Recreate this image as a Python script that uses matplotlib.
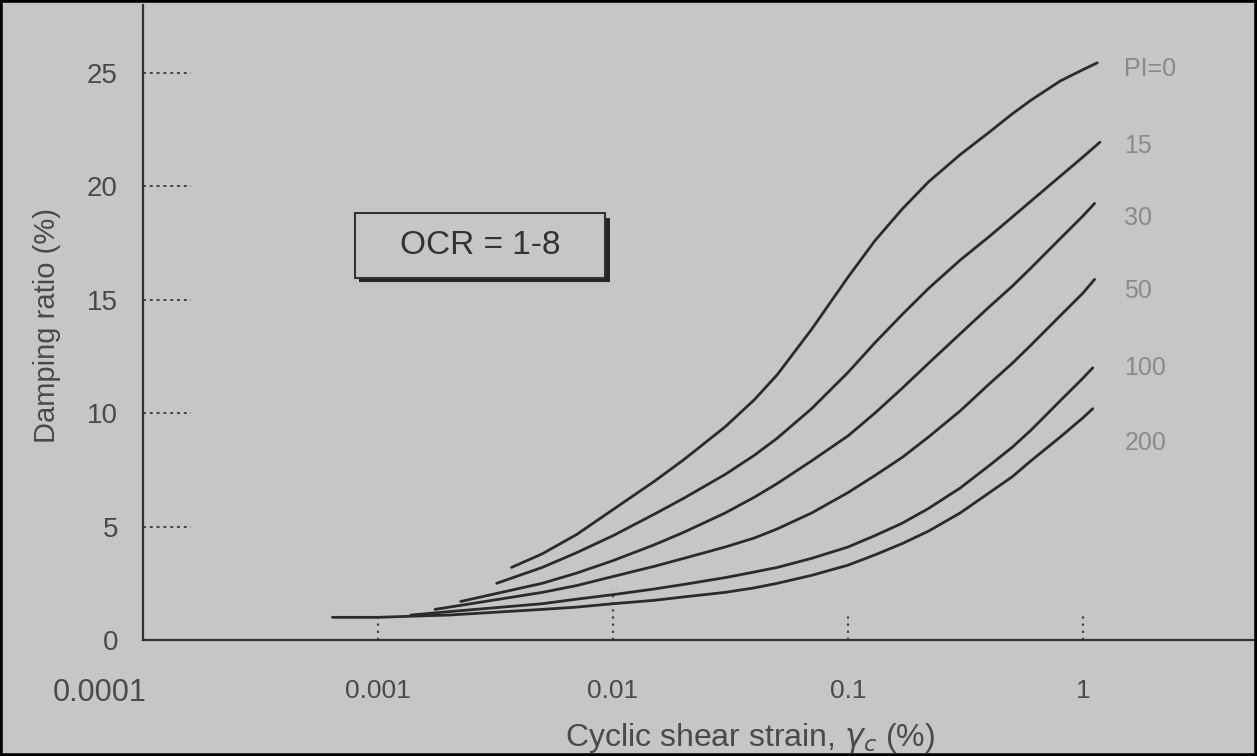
import matplotlib
matplotlib.use("Agg")
import matplotlib.pyplot as plt
from matplotlib.patches import Rectangle

# Damping ratio (%) vs cyclic shear strain (%) (OCR = 1-8)
strain_pi0 = [0.0037, 0.005, 0.007, 0.01, 0.015, 0.02, 0.03, 0.04, 0.05, 0.07, 0.1,
              0.13, 0.17, 0.22, 0.3, 0.4, 0.5, 0.6, 0.8, 1.0, 1.15]
damp_pi0 = [3.2, 3.8, 4.65, 5.75, 7.0, 7.95, 9.4, 10.6, 11.7, 13.7, 16.0,
            17.6, 19.0, 20.2, 21.4, 22.4, 23.2, 23.8, 24.65, 25.15, 25.45]

strain_pi15 = [0.0032, 0.005, 0.007, 0.01, 0.015, 0.02, 0.03, 0.04, 0.05, 0.07, 0.1,
               0.13, 0.17, 0.22, 0.3, 0.4, 0.5, 0.6, 0.8, 1.0, 1.18]
damp_pi15 = [2.5, 3.2, 3.85, 4.6, 5.55, 6.25, 7.3, 8.15, 8.9, 10.2, 11.8,
             13.1, 14.35, 15.5, 16.75, 17.8, 18.65, 19.35, 20.45, 21.3, 21.95]

strain_pi30 = [0.00225, 0.005, 0.007, 0.01, 0.015, 0.02, 0.03, 0.04, 0.05, 0.07, 0.1,
               0.13, 0.17, 0.22, 0.3, 0.4, 0.5, 0.6, 0.8, 1.0, 1.12]
damp_pi30 = [1.7, 2.5, 2.95, 3.5, 4.2, 4.75, 5.6, 6.3, 6.9, 7.9, 9.0,
             10.0, 11.1, 12.2, 13.5, 14.7, 15.6, 16.4, 17.7, 18.7, 19.25]

strain_pi50 = [0.00175, 0.005, 0.007, 0.01, 0.015, 0.02, 0.03, 0.04, 0.05, 0.07, 0.1,
               0.13, 0.17, 0.22, 0.3, 0.4, 0.5, 0.6, 0.8, 1.0, 1.12]
damp_pi50 = [1.35, 2.1, 2.4, 2.8, 3.25, 3.6, 4.1, 4.5, 4.9, 5.6, 6.5,
             7.25, 8.05, 8.95, 10.1, 11.3, 12.2, 13.0, 14.3, 15.3, 15.9]

strain_pi100 = [0.00138, 0.002, 0.005, 0.007, 0.01, 0.015, 0.02, 0.03, 0.04, 0.05, 0.07, 0.1,
                0.13, 0.17, 0.22, 0.3, 0.4, 0.5, 0.6, 0.8, 1.0, 1.1]
damp_pi100 = [1.1, 1.25, 1.6, 1.8, 2.0, 2.25, 2.45, 2.75, 3.0, 3.2, 3.6, 4.1,
              4.6, 5.15, 5.8, 6.7, 7.7, 8.5, 9.25, 10.55, 11.55, 12.0]

strain_pi200 = [0.00064, 0.001, 0.0014, 0.002, 0.005, 0.007, 0.01, 0.015, 0.02, 0.03, 0.04, 0.05, 0.07, 0.1,
                0.13, 0.17, 0.22, 0.3, 0.4, 0.5, 0.6, 0.8, 1.0, 1.1]
damp_pi200 = [1.0, 1.0, 1.05, 1.1, 1.35, 1.45, 1.6, 1.75, 1.9, 2.1, 2.3, 2.5, 2.85, 3.3,
              3.75, 4.25, 4.8, 5.6, 6.5, 7.2, 7.9, 8.95, 9.8, 10.2]

curve_labels = ["PI=0", "15", "30", "50", "100", "200"]
label_y = [25.2, 21.8, 18.6, 15.4, 12.0, 8.7]

x_ticks = [0.001, 0.01, 0.1, 1]
x_tick_labels = ["0.001", "0.01", "0.1", "1"]
y_ticks = [0, 5, 10, 15, 20, 25]

bg = "#c6c6c6"
ink = "#2b2b2b"
text_col = "#4a4a4a"

plt.rcParams["font.family"] = ["Liberation Sans", "DejaVu Sans"]

fig = plt.figure(figsize=(12.57, 7.56), dpi=100, facecolor=bg)
ax = fig.add_axes([143 / 1257, 116 / 756, 1114 / 1257, 635 / 756], facecolor=bg)

series = [
    (strain_pi0, damp_pi0),
    (strain_pi15, damp_pi15),
    (strain_pi30, damp_pi30),
    (strain_pi50, damp_pi50),
    (strain_pi100, damp_pi100),
    (strain_pi200, damp_pi200),
]
for xs, ys in series:
    ax.plot(xs, ys, color=ink, lw=2.0, solid_capstyle="round", solid_joinstyle="round", zorder=3)

for lab, yv in zip(curve_labels, label_y):
    ax.text(1.5, yv, lab, fontsize=18, color="#8a8a8a", ha="left", va="center")

ax.set_xscale("log")
ax.set_xlim(1e-4, 5.5)
ax.set_ylim(0, 28)

# axes frame: only left and bottom
for s in ["top", "right"]:
    ax.spines[s].set_visible(False)
for s in ["left", "bottom"]:
    ax.spines[s].set_color("#333333")
    ax.spines[s].set_linewidth(1.6)

# ticks are drawn as short dotted stubs inside the frame
ax.set_xticks(x_ticks)
ax.set_xticklabels(x_tick_labels)
ax.xaxis.set_minor_locator(matplotlib.ticker.NullLocator())
ax.set_yticks(y_ticks)
ax.tick_params(axis="both", length=0, labelcolor=text_col)
ax.tick_params(axis="x", pad=28, labelsize=19)
ax.tick_params(axis="y", pad=18, labelsize=20)

stub_h = [1.2, 2.2, 1.1, 1.2]
for xt, h in zip(x_ticks, stub_h):
    ax.plot([xt, xt], [0, h], color="#444444", lw=1.6, ls=(0, (1, 2.2)), zorder=2)
for yt in y_ticks[1:]:
    ax.plot([1e-4, 1.6e-4], [yt, yt], color="#444444", lw=1.4, ls=(0, (1.5, 2)), zorder=2)

ax.annotate("0.0001", xy=(1e-4, 0), xytext=(-31, -38), textcoords="offset points",
            ha="center", va="center", fontsize=22, color=text_col, annotation_clip=False)

ax.set_xlabel(r"Cyclic shear strain, $\gamma_c$ (%)", fontsize=23, color=text_col)
ax.xaxis.set_label_coords((750 - 143) / 1114, -0.128)
ax.set_ylabel("Damping ratio (%)", fontsize=21, color=text_col,
              family=["Liberation Sans Narrow", "Liberation Sans", "DejaVu Sans"])
ax.yaxis.set_label_coords(-0.074, 0.496)

# OCR box with a drop shadow
box_x0, box_y0, box_w, box_h = 0.190, 0.570, 0.225, 0.102
ax.add_patch(Rectangle((box_x0 + 0.004, box_y0 - 0.007), box_w, box_h, transform=ax.transAxes,
                       fc="#262626", ec="none", zorder=4))
ax.add_patch(Rectangle((box_x0, box_y0), box_w, box_h, transform=ax.transAxes,
                       fc=bg, ec="#333333", lw=1.5, zorder=5))
ax.text(box_x0 + box_w / 2, box_y0 + box_h / 2, "OCR = 1-8", transform=ax.transAxes,
        fontsize=24, color="#333333", ha="center", va="center", zorder=6)

# thin black frame of the photo
fig.patches.append(Rectangle((0, 0), 1, 1, transform=fig.transFigure, fill=False,
                             ec="black", lw=4, zorder=10))

fig.savefig("out.png", dpi=100, facecolor=bg)
